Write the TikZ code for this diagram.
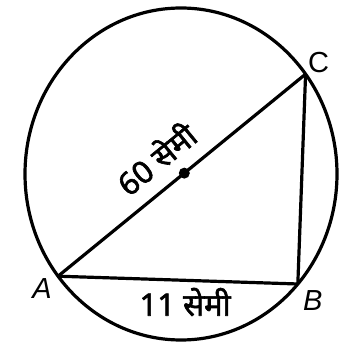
\documentclass[tikz,border=0pt]{standalone}
\usepackage{fontspec}
\setmainfont{Liberation Sans}
\newfontfamily\hindi[Script=Devanagari, FakeBold=2]{Noto Sans}
\usetikzlibrary{calc}

\begin{document}
\begin{tikzpicture}[
        x=1pt, y=1pt,
        every node/.style={font=\fontsize{29}{33}\selectfont},
        vertex/.style={font=\fontsize{29}{33}\selectfont\itshape},
        length/.style={font=\fontsize{31}{33}\selectfont\hindi, inner sep=1pt},
        every path/.style={line width=3.2pt}
    ]
    \useasboundingbox (0,0) rectangle (340,343);

    % Circle
    \coordinate (O) at (181,169);
    \draw (O) ellipse [x radius=156, y radius=166];

    % Vertices on the circle
    \coordinate (A) at ($(O)+(218:156 and 166)$);
    \coordinate (B) at ($(O)+(-41.5:156 and 166)$);
    \coordinate (C) at ($(O)+(37:156 and 166)$);

    % Sides
    \draw (A) -- (C) node[pos=0.47, sloped, above=13pt, length] (lenAC) {60 सेमी};
    \draw[line join=round] (A) -- (B) node[pos=0.53, below=5pt, length] (lenAB) {11 सेमी} -- (C);

    % Centre
    \node[circle, fill, inner sep=0pt, minimum size=11pt] (dot) at ($(A)!0.51!(C)$) {};

    % Labels
    \node[vertex] (labA) at ($(A)+(-16,-12)$) {A};
    \node[vertex] (labB) at ($(B)+(15,-17)$) {B};
    \node (labC) at ($(C)+(13,12)$) {C};
\end{tikzpicture}
\end{document}
